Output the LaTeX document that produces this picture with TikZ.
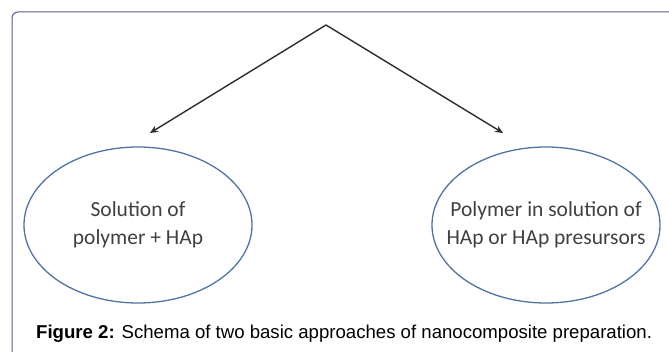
\documentclass[tikz,border=0pt]{standalone}
\usepackage{fontspec}
\setmainfont{Liberation Sans}
\newfontfamily\carlito{Carlito}
\usetikzlibrary{shapes.geometric,arrows.meta}
\definecolor{framepurple}{RGB}{95,85,155}
\definecolor{ovalblue}{RGB}{80,115,165}
\definecolor{arrowgray}{RGB}{45,45,45}

\begin{document}
\begin{tikzpicture}[x=1pt,y=-1pt,
   approach/.style={draw=ovalblue,ellipse,line width=1.3pt,
      minimum width=228pt,minimum height=156pt,inner xsep=-25pt,inner ysep=0pt,align=center,
      font=\carlito\fontsize{21.5}{28}\selectfont,text=black!75},
   branch/.style={draw=arrowgray,line width=1.4pt,-{Stealth[length=8pt,width=7pt]}}]
\useasboundingbox (0,0) rectangle (669,352);
% frame of the figure
\draw[framepurple,line width=1pt,rounded corners=6pt] (12,352) -- (12,12) -- (669,12);
\coordinate (root) at (326,25);
\node[approach] (sol) at (138,225) {Solution of\\polymer + HAp};
\node[approach] (poly) at (546,225) {Polymer in solution of\\HAp or HAp presursors};
\coordinate (solTip) at (150,133);
\coordinate (polyTip) at (503,133);
\draw[branch] (root) -- (solTip);
\draw[branch] (root) -- (polyTip);
\node[anchor=base west,inner sep=0pt,font=\fontsize{18.6}{21}\selectfont] (caption) at (36,338)
   {\textbf{Figure 2:} Schema of two basic approaches of nanocomposite preparation.};
\end{tikzpicture}
\end{document}
